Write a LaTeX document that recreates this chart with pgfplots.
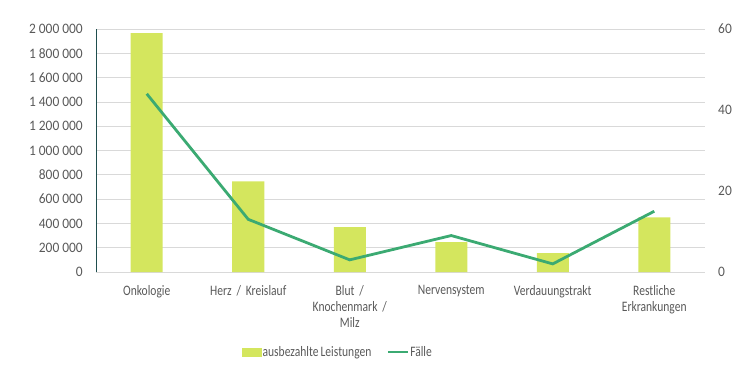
\documentclass[border=0pt]{standalone}
\usepackage{fontspec}
\setmainfont{Carlito}
\newfontfamily\lblfont[FakeStretch=0.8,WordSpace=0.8]{Carlito}
\newfontfamily\numfont[FakeStretch=0.93]{Carlito}
\usepackage{pgfplots}
\pgfplotsset{compat=1.18}
\definecolor{barc}{HTML}{D4E65E}
\definecolor{linec}{HTML}{3BAA72}
\definecolor{txt}{HTML}{595959}
\definecolor{grd}{HTML}{D9D9D9}
\definecolor{axl}{HTML}{1F4E4E}
\begin{document}
\begin{tikzpicture}
\path[use as bounding box] (-96bp,-102bp) rectangle (660bp,272bp);
\begin{axis}[
  scale only axis, width=609bp, height=243bp,
  xmin=-0.5, xmax=5.5, ymin=0, ymax=2000000,
  xtick={0,1,2,3,4,5},
  xticklabels={Onkologie,Herz / Kreislauf,Blut /\\Knochenmark /\\Milz,Nervensystem,Verdauungstrakt,Restliche\\Erkrankungen},
  xticklabel style={align=center, text width=95bp, font=\lblfont\fontsize{14.5}{16}\selectfont, text=txt, inner sep=0pt},
  ytick={0,200000,400000,600000,800000,1000000,1200000,1400000,1600000,1800000,2000000},
  yticklabels={0,200 000,400 000,600 000,800 000,1 000 000,1 200 000,1 400 000,1 600 000,1 800 000,2 000 000},
  scaled y ticks=false,
  yticklabel style={font=\numfont\fontsize{14.5}{16}\selectfont, text=txt, inner sep=0pt},
  ymajorgrids, grid style={grd, line width=0.75pt},
  major tick length=0pt,
  axis x line*=bottom, axis y line*=left,
  x axis line style={grd, line width=0.75pt, -},
  y axis line style={axl, line width=0.9pt, -},
  ytick pos=left, xtick pos=bottom,
  yticklabel shift=13bp,
  xticklabel shift=13bp,
  clip=false,
]
\addplot[ybar, bar width=32bp, fill=barc, draw=none] coordinates {
(0,1967000) (1,745000) (2,370000) (3,245000) (4,155000) (5,450000)};
\end{axis}
\begin{axis}[
  scale only axis, width=609bp, height=243bp,
  xmin=-0.5, xmax=5.5, ymin=0, ymax=60,
  axis x line=none,
  axis y line*=right,
  y axis line style={draw=none},
  ytick={0,20,40,60},
  yticklabels={0,20,40,60},
  major tick length=0pt,
  yticklabel style={font=\numfont\fontsize{14.5}{16}\selectfont, text=txt, inner sep=0pt},
  yticklabel shift=13bp,
  legend style={at={(146bp,-80bp)}, anchor=west, draw=none, fill=none, inner sep=0pt,
    legend columns=2, font=\lblfont\fontsize{14.5}{16}\selectfont, text=txt,
    nodes={inner sep=1bp},
    /tikz/every even column/.append style={column sep=14bp}},
  legend cell align=left,
  clip=false,
]
\addlegendimage{legend image code/.code={\fill[barc] (0bp,-4bp) rectangle (19bp,4bp);}}
\addlegendentry{ausbezahlte Leistungen}
\addplot[linec, line width=2.8pt, mark=none,
  legend image code/.code={\draw[linec, line width=2.8pt] (0bp,0bp) -- (20bp,0bp);}] coordinates {
(0,44) (1,13) (2,3) (3,9) (4,2) (5,15)};
\addlegendentry{Fälle}
\end{axis}
\end{tikzpicture}
\end{document}
